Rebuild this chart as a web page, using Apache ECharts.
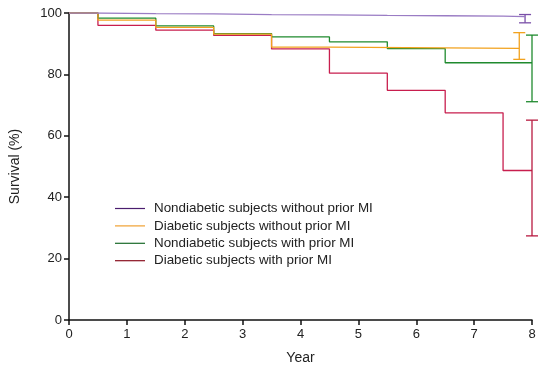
<!DOCTYPE html>
<html><head><meta charset="utf-8">
<script src="https://cdn.jsdelivr.net/npm/echarts@6/dist/echarts.min.js"></script>
<style>html,body{margin:0;padding:0;background:#fff}#c{width:551px;height:372px}</style>
</head><body><div id="c"></div>
<script>
var seriesNames = ['Nondiabetic subjects without prior MI','Diabetic subjects without prior MI','Nondiabetic subjects with prior MI','Diabetic subjects with prior MI'];
var xTicks = [0,1,2,3,4,5,6,7,8];
var yTicks = [0,20,40,60,80,100];
// step times and survival (%) after each time
var purpleT = [0,0.5,1.5,2.5,3.5,4.5,5.5,6.5,7.5,7.88];
var purpleS = [100,99.8,99.7,99.5,99.4,99.2,99.1,99.0,98.8,98.8];
var orangeT = [0,0.5,1.5,2.5,3.5,4.5,7.78];
var orangeS = [100,97.7,95.3,93.1,88.9,88.5,88.5];
var greenT = [0,0.5,1.5,2.5,3.5,4.5,5.5,6.5,8];
var greenS = [100,98.3,95.8,93.3,92.2,90.6,88.4,83.8,83.8];
var redT = [0,0.5,1.5,2.5,3.5,4.5,5.5,6.5,7.5,8];
var redS = [100,96.0,94.4,92.7,88.3,80.4,74.8,67.5,48.7,48.7];
// error bars at end: [x, low, high]
var purpleErr = [7.88,96.8,99.5];
var orangeErr = [7.78,84.9,93.6];
var greenErr = [8,71.1,92.8];
var redErr = [8,27.4,65.1];

var lineColors = ['#9a7cc4','#f2a21e','#1f8a2e','#c81e4e'];
var legendColors = ['#4a1d6e','#f0a030','#1a6a2a','#8a1020'];

function pairs(t,s){return t.map(function(v,i){return [v,s[i]];});}
function errSeries(name,e,color){
  return {name:name,type:'custom',silent:true,z:5,data:[e],
    renderItem:function(params,api){
      var top=api.coord([api.value(0),api.value(2)]);
      var bot=api.coord([api.value(0),api.value(1)]);
      var w=6;
      var st={stroke:color,lineWidth:1.3};
      return {type:'group',children:[
        {type:'line',shape:{x1:top[0],y1:top[1],x2:bot[0],y2:bot[1]},style:st},
        {type:'line',shape:{x1:top[0]-w,y1:top[1],x2:top[0]+w,y2:top[1]},style:st},
        {type:'line',shape:{x1:bot[0]-w,y1:bot[1],x2:bot[0]+w,y2:bot[1]},style:st}
      ]};
    }};
}
function lineSeries(name,t,s,color,z){
  return {name:name,type:'line',step:'end',data:pairs(t,s),showSymbol:false,symbol:'none',
    z:z,lineStyle:{color:color,width:1.3},itemStyle:{color:color},animation:false};
}
var chart = echarts.init(document.getElementById('c'),null,{renderer:'canvas'});
chart.setOption({
  animation:false,
  grid:{left:67,right:19,top:13,bottom:52,containLabel:false},
  xAxis:{type:'value',min:0,max:8,interval:1,
    name:'Year',nameLocation:'middle',nameGap:31,
    nameTextStyle:{color:'#222',fontSize:14,fontFamily:'Liberation Sans'},
    axisLine:{lineStyle:{color:'#111',width:1.5}},
    axisTick:{show:true,length:5,lineStyle:{color:'#111',width:1.5}},
    axisLabel:{color:'#222',fontSize:13,margin:8,fontFamily:'Liberation Sans',
      formatter:function(v){return xTicks.indexOf(v)>=0?String(v):'';}},
    splitLine:{show:false}},
  yAxis:{type:'value',min:0,max:100,interval:20,
    name:'Survival (%)',nameLocation:'middle',nameGap:47,
    nameTextStyle:{color:'#222',fontSize:14,fontFamily:'Liberation Sans'},
    axisLine:{show:true,lineStyle:{color:'#111',width:1.5}},
    axisTick:{show:true,length:5,lineStyle:{color:'#111',width:1.5}},
    axisLabel:{color:'#222',fontSize:13,margin:7,fontFamily:'Liberation Sans',
      formatter:function(v){return yTicks.indexOf(v)>=0?String(v):'';}},
    splitLine:{show:false}},
  legend:{orient:'vertical',left:110,top:197,itemWidth:30,itemHeight:1.2,itemGap:4.4,
    icon:'rect',
    textStyle:{color:'#222',fontSize:13.4,fontFamily:'Liberation Sans',padding:[0,0,0,4]},
    data:seriesNames.map(function(n,i){return {name:n,itemStyle:{color:legendColors[i]}};})},
  series:[
    lineSeries(seriesNames[3],redT,redS,lineColors[3],2),
    lineSeries(seriesNames[2],greenT,greenS,lineColors[2],3),
    lineSeries(seriesNames[1],orangeT,orangeS,lineColors[1],4),
    lineSeries(seriesNames[0],purpleT,purpleS,lineColors[0],5),
    errSeries('e0',purpleErr,'#7a4fa8'),
    errSeries('e1',orangeErr,lineColors[1]),
    errSeries('e2',greenErr,lineColors[2]),
    errSeries('e3',redErr,'#b81a40')
  ]
});
</script></body></html>
